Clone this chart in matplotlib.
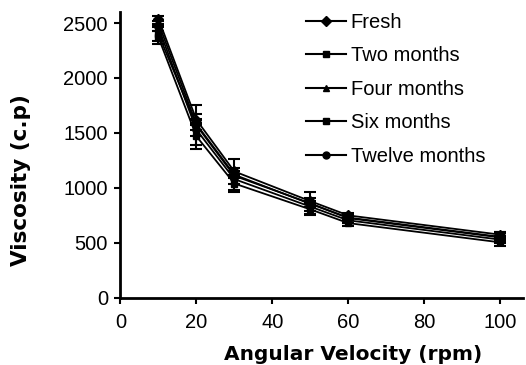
import matplotlib.pyplot as plt
import numpy as np

plt.rcParams['font.family'] = ['Liberation Sans', 'DejaVu Sans']

# angular velocity (rpm)
rpm = [10, 20, 30, 50, 60, 100]

fresh = [2540, 1620, 1150, 880, 750, 575]
two_months = [2400, 1570, 1110, 860, 725, 550]
four_months = [2500, 1580, 1120, 855, 730, 555]
six_months = [2370, 1470, 1040, 805, 680, 505]
twelve_months = [2460, 1530, 1080, 830, 705, 530]

fresh_err = [20, 50, 30, 30, 25, 25]
two_err = [60, 180, 150, 100, 40, 40]
four_err = [20, 50, 30, 30, 25, 40]
six_err = [60, 120, 60, 50, 30, 30]
twelve_err = [30, 60, 40, 40, 25, 30]

series = [
    ('Fresh', fresh, fresh_err, 'D'),
    ('Two months', two_months, two_err, 's'),
    ('Four months', four_months, four_err, '^'),
    ('Six months', six_months, six_err, 's'),
    ('Twelve months', twelve_months, twelve_err, 'o'),
]

fig = plt.figure(figsize=(5.26, 3.65), dpi=100)
ax = fig.add_axes([0.229, 0.184, 0.765, 0.783])

for name, vals, err, mk in series:
    ax.errorbar(rpm, vals, yerr=err, color='black', marker=mk, markersize=5,
                linewidth=1.3, elinewidth=1.5, capsize=4, capthick=1.5,
                label=name)

ax.set_xlim(0, 106)
ax.set_ylim(0, 2600)
ax.set_xticks([0, 20, 40, 60, 80, 100])
ax.set_yticks([0, 500, 1000, 1500, 2000, 2500])
ax.spines['top'].set_visible(False)
ax.spines['right'].set_visible(False)
ax.spines['left'].set_linewidth(2)
ax.spines['bottom'].set_linewidth(2)
ax.tick_params(direction='out', length=4, width=1.5, labelsize=14.5, pad=5)
ax.tick_params(axis='x', pad=7)

ax.set_xlabel('Angular Velocity (rpm)', fontsize=14.5, fontweight='bold',
              family='DejaVu Sans')
ax.set_ylabel('Viscosity (c.p)', fontsize=15.5, fontweight='bold',
              family='DejaVu Sans')
ax.xaxis.set_label_coords(0.577, -0.165)
ax.yaxis.set_label_coords(-0.222, 0.413)

# legend shows markers without error bars
handles = [plt.Line2D([], [], color='black', marker=mk, markersize=5, linewidth=1.5)
           for _, _, _, mk in series]
labels = [s[0] for s in series]
ax.legend(handles, labels, loc='upper left', bbox_to_anchor=(0.44, 1.025),
          frameon=False, fontsize=14.5, handlelength=2.0, handletextpad=0.25,
          labelspacing=0.72, borderaxespad=0)

fig.savefig('out.png', dpi=100)
